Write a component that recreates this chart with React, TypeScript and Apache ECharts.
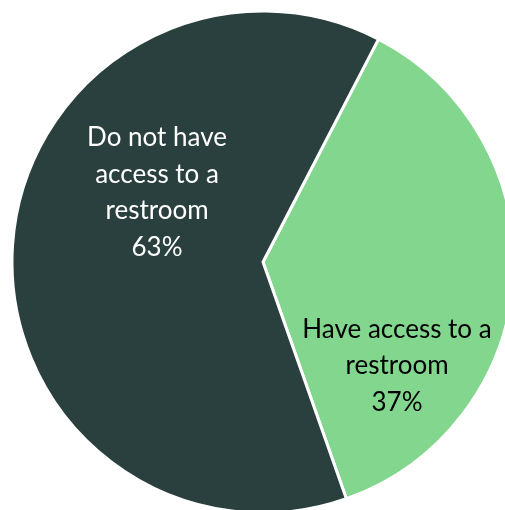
import React, { useEffect, useRef } from "react";
import * as echarts from "echarts";

const categories = ["Have access to a\nrestroom", "Do not have\naccess to a\nrestroom"];
const values = [37, 63];
const colors = ["#82D68E", "#2A403E"];
const labelColors = ["#000000", "#FFFFFF"];

export default function App() {
  const ref = useRef<HTMLDivElement>(null);
  useEffect(() => {
    if (!ref.current) return;
    const chart = echarts.init(ref.current, null, { renderer: "svg" });
    const labelPos = [
      { x: 397, y: 364 },
      { x: 157, y: 191 },
    ];
    chart.setOption({
      animation: false,
      series: [
        {
          type: "pie",
          center: [263, 262],
          radius: 251,
          startAngle: 62.6,
          clockwise: true,
          label: {
            show: true,
            position: "inside",
            fontFamily: "Lato",
            fontSize: 26,
            lineHeight: 36.5,
            align: "center",
            verticalAlign: "middle",
            formatter: (p: any) => `${p.name}\n${p.value}%`,
          },
          labelLine: { show: false },
          labelLayout: (p: any) => ({
            x: labelPos[p.dataIndex].x,
            y: labelPos[p.dataIndex].y,
            align: "center",
            verticalAlign: "middle",
          }),
          emphasis: { disabled: true },
          itemStyle: { borderColor: "#FFFFFF", borderWidth: 3 },
          data: categories.map((c, i) => ({
            name: c,
            value: values[i],
            itemStyle: { color: colors[i] },
            label: { color: labelColors[i] },
          })),
        },
      ],
    });
    return () => chart.dispose();
  }, []);
  return (
    <div
      ref={ref}
      style={{ position: "fixed", left: 0, top: 0, width: 505, height: 510 }}
    />
  );
}
